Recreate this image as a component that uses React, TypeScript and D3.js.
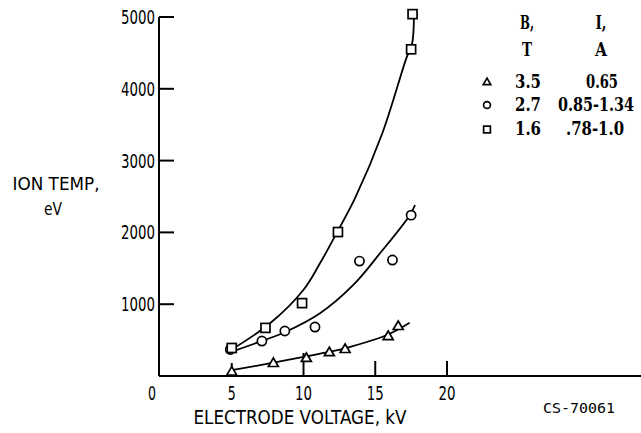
import React from "react";
import * as d3 from "d3";

const W = 641;
const H = 433;

// Data points [kV, eV]
const triangles: [number, number][] = [
  [5.0, 60], [7.9, 180], [10.2, 250], [11.8, 330], [12.9, 375], [15.9, 555], [16.6, 695],
];
const circles: [number, number][] = [
  [4.9, 370], [7.1, 487], [8.7, 627], [10.8, 682], [13.9, 1600], [16.2, 1615], [17.5, 2240],
];
const squares: [number, number][] = [
  [5.0, 390], [7.35, 670], [9.9, 1015], [12.4, 2005], [17.5, 4550], [17.6, 5040],
];

// Fitted curves
const triangleCurve: [number, number][] = [
  [5.1, 84], [7.9, 186], [10.1, 270], [11.85, 339], [12.9, 386], [15.8, 571], [17.4, 743],
];
const circleCurve: [number, number][] = [
  [4.74, 320], [7.15, 492], [8.78, 617], [11.15, 873], [13.47, 1268], [15.33, 1709], [17.42, 2243], [17.77, 2382],
];
const squareCurve: [number, number][] = [
  [4.76, 339], [7.67, 734], [9.99, 1198], [11.15, 1570], [12.3, 1988], [13.6, 2480], [15.5, 3385], [17.2, 4444], [17.56, 4620], [17.7, 5040],
];

const xTicks = [0, 5, 10, 15, 20];
const yTicks = [1000, 2000, 3000, 4000, 5000];

const legendRows = [
  { sym: "triangle", b: "3.5", i: "0.65" },
  { sym: "circle", b: "2.7", i: "0.85-1.34" },
  { sym: "square", b: "1.6", i: ".78-1.0" },
];

const x = d3.scaleLinear().domain([0, 20]).range([160, 447]);
const y = d3.scaleLinear().domain([0, 5000]).range([376, 17]);

const line = d3
  .line<[number, number]>()
  .x((d) => x(d[0]))
  .y((d) => y(d[1]))
  .curve(d3.curveCatmullRom.alpha(0.5));

const sansFont = "'DejaVu Sans', sans-serif";
const legendFont = "'DejaVu Serif', 'Liberation Serif', serif";

function T({
  x: tx, y: ty, w, size, anchor = "middle", font = sansFont, weight = "normal", children,
}: {
  x: number; y: number; w: number; size: number; anchor?: string; font?: string; weight?: string; children: string;
}) {
  return (
    <text
      x={tx}
      y={ty}
      textAnchor={anchor}
      fontFamily={font}
      fontSize={size}
      fontWeight={weight}
      textLength={w}
      lengthAdjust="spacingAndGlyphs"
      fill="black"
    >
      {children}
    </text>
  );
}

function Sym({ kind, cx, cy, s = 1 }: { kind: string; cx: number; cy: number; s?: number }) {
  const common = { fill: "white", stroke: "black", strokeWidth: 1.7 };
  if (kind === "circle") return <circle cx={cx} cy={cy} r={4.6 * s} {...common} />;
  if (kind === "square")
    return <rect x={cx - 4.5 * s} y={cy - 4.5 * s} width={9 * s} height={9 * s} {...common} />;
  const h = 8.5 * s;
  const w = 10 * s;
  return (
    <path
      d={`M${cx},${cy - h * 0.6} L${cx + w / 2},${cy + h * 0.4} L${cx - w / 2},${cy + h * 0.4} Z`}
      {...common}
    />
  );
}

export default function App() {
  return (
    <svg
      width={W}
      height={H}
      style={{ position: "absolute", left: 0, top: 0, background: "white" }}
    >
      <rect width={W} height={H} fill="white" />
      {/* axes */}
      <line x1={159} y1={17} x2={159} y2={376} stroke="black" strokeWidth={2} />
      <line x1={159} y1={376} x2={641} y2={376} stroke="black" strokeWidth={2} />
      {yTicks.map((t) => (
        <g key={t}>
          <line x1={159} x2={174} y1={y(t)} y2={y(t)} stroke="black" strokeWidth={2} />
          <T x={155} y={y(t) + 7} w={34} size={19} anchor="end">{String(t)}</T>
        </g>
      ))}
      {xTicks.map((t) => (
        <g key={t}>
          {t > 0 && (
            <line
              x1={x(t)}
              x2={x(t)}
              y1={376}
              y2={t === 10 ? 353 : t === 5 ? 363 : 361}
              stroke="black"
              strokeWidth={2}
            />
          )}
          <T x={t === 0 ? 152 : x(t)} y={400} w={t < 10 ? 8 : 17} size={19}>{String(t)}</T>
        </g>
      ))}
      <T x={300} y={424} w={213} size={20}>ELECTRODE VOLTAGE, kV</T>
      <T x={56} y={190} w={87} size={18}>ION TEMP,</T>
      <T x={53} y={215} w={18} size={18}>eV</T>
      <T x={579} y={413} w={72} size={14} font="'DejaVu Sans Mono', monospace">CS-70061</T>

      {/* curves */}
      {[triangleCurve, circleCurve, squareCurve].map((c, i) => (
        <path key={i} d={line(c) || ""} fill="none" stroke="black" strokeWidth={1.8} />
      ))}

      {/* points */}
      {triangles.map((d, i) => (
        <Sym key={"t" + i} kind="triangle" cx={x(d[0])} cy={y(d[1])} />
      ))}
      {circles.map((d, i) => (
        <Sym key={"c" + i} kind="circle" cx={x(d[0])} cy={y(d[1])} />
      ))}
      {squares.map((d, i) => (
        <Sym key={"s" + i} kind="square" cx={x(d[0])} cy={y(d[1])} />
      ))}

      {/* legend */}
      <T x={527} y={29} w={14} size={18} font={legendFont} weight="bold">B,</T>
      <T x={601} y={29} w={11} size={18} font={legendFont} weight="bold">I,</T>
      <T x={527} y={56} w={10} size={18} font={legendFont} weight="bold">T</T>
      <T x={601} y={56} w={12} size={18} font={legendFont} weight="bold">A</T>
      {legendRows.map((r, i) => {
        const base = [87.5, 110.5, 135][i];
        const iw = [32, 78, 58][i];
        const ix = [602, 596, 595][i];
        return (
          <g key={r.b}>
            <Sym kind={r.sym} cx={487} cy={base - 5.5} s={0.75} />
            <T x={528} y={base} w={26} size={18} font={legendFont} weight="bold">{r.b}</T>
            {i === 1 ? (
              <text
                transform={`translate(${ix},${base}) scale(0.8,1)`}
                textAnchor="middle"
                fontFamily={legendFont}
                fontSize={18}
                fontWeight="bold"
                fill="black"
              >
                {r.i}
              </text>
            ) : (
              <T x={ix} y={base} w={iw} size={18} font={legendFont} weight="bold">{r.i}</T>
            )}
          </g>
        );
      })}
    </svg>
  );
}
